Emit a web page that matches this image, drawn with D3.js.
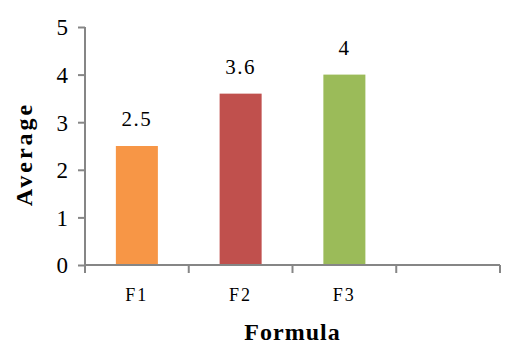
<!DOCTYPE html>
<html>
<head>
<meta charset="utf-8">
<script src="https://cdn.jsdelivr.net/npm/d3@7"></script>
<style>
  html, body { margin: 0; padding: 0; background: #fff; }
  svg { display: block; }
  text { font-family: "Liberation Serif", "Times New Roman", serif; fill: #000; }
</style>
</head>
<body>
<svg id="chart" width="520" height="344"></svg>
<script>
// Average score per formula; the fourth category slot is left empty
const categories = ["F1", "F2", "F3", ""];
const averages = [2.5, 3.6, 4, null];
const barColors = ["#F79646", "#C0504D", "#9BBB59", null];
const yTicks = [0, 1, 2, 3, 4, 5];

const svg = d3.select("#chart");
const margin = { left: 85, right: 20, top: 27, bottom: 79 };
const W = 520, H = 344;
const plotW = W - margin.left - margin.right;
const plotH = H - margin.top - margin.bottom;
const axisColor = "#868686";

const x = d3.scaleBand().domain(categories).range([0, plotW]).paddingInner(0).paddingOuter(0);
const y = d3.scaleLinear().domain([0, 5]).range([plotH, 0]);

const g = svg.append("g").attr("transform", `translate(${margin.left},${margin.top})`);

// Bars
const barW = x.bandwidth() * 0.405;
const rows = categories.map((c, i) => ({ c, v: averages[i], color: barColors[i] })).filter(d => d.v != null);

g.selectAll("rect.bar").data(rows).enter().append("rect")
  .attr("class", "bar")
  .attr("x", d => x(d.c) + (x.bandwidth() - barW) / 2)
  .attr("width", barW)
  .attr("y", d => y(d.v))
  .attr("height", d => y(0) - y(d.v))
  .attr("fill", d => d.color);

// Value labels above bars
g.selectAll("text.val").data(rows).enter().append("text")
  .attr("class", "val")
  .attr("x", d => x(d.c) + x.bandwidth() / 2)
  .attr("y", d => y(d.v) - 20)
  .attr("text-anchor", "middle")
  .style("font-size", "21px")
  .style("letter-spacing", "1.5px")
  .text(d => d.v);

// Y axis
const yAxis = d3.axisLeft(y).tickValues(yTicks).tickFormat(d3.format("d")).tickSize(7).tickPadding(10);
const yg = g.append("g").call(yAxis);
yg.select(".domain").attr("stroke", axisColor).attr("stroke-width", 2).attr("d", `M0,${y(5)}V${y(0)}`);
yg.selectAll(".tick line").attr("stroke", axisColor).attr("stroke-width", 2);
yg.selectAll(".tick text").style("font-size", "23px").style("font-family", "Liberation Serif, serif").attr("fill", "#000").attr("dy", "0.34em");

// X axis with ticks on category boundaries
const xg = g.append("g").attr("transform", `translate(0,${plotH})`);
xg.append("line").attr("x1", 0).attr("x2", plotW).attr("y1", 0).attr("y2", 0)
  .attr("stroke", axisColor).attr("stroke-width", 2);
const bounds = categories.map(c => x(c)).concat([x.range()[1]]);
xg.selectAll("line.xt").data(bounds).enter().append("line")
  .attr("class", "xt")
  .attr("x1", d => d).attr("x2", d => d)
  .attr("y1", 0).attr("y2", 8)
  .attr("stroke", axisColor).attr("stroke-width", 2);
xg.selectAll("text.xl").data(categories).enter().append("text")
  .attr("class", "xl")
  .attr("x", d => x(d) + x.bandwidth() / 2)
  .attr("y", 36)
  .attr("text-anchor", "middle")
  .style("font-size", "18px")
  .style("letter-spacing", "2px")
  .text(d => d);

// Axis titles
svg.append("text")
  .attr("x", margin.left + x.step() * 2)
  .attr("y", 340)
  .attr("text-anchor", "middle")
  .style("font-size", "24px")
  .style("font-weight", "bold")
  .style("letter-spacing", "1px")
  .text("Formula");

svg.append("text")
  .attr("transform", `translate(32,154) rotate(-90)`)
  .attr("text-anchor", "middle")
  .style("font-size", "24px")
  .style("font-weight", "bold")
  .style("letter-spacing", "3px")
  .text("Average");
</script>
</body>
</html>
